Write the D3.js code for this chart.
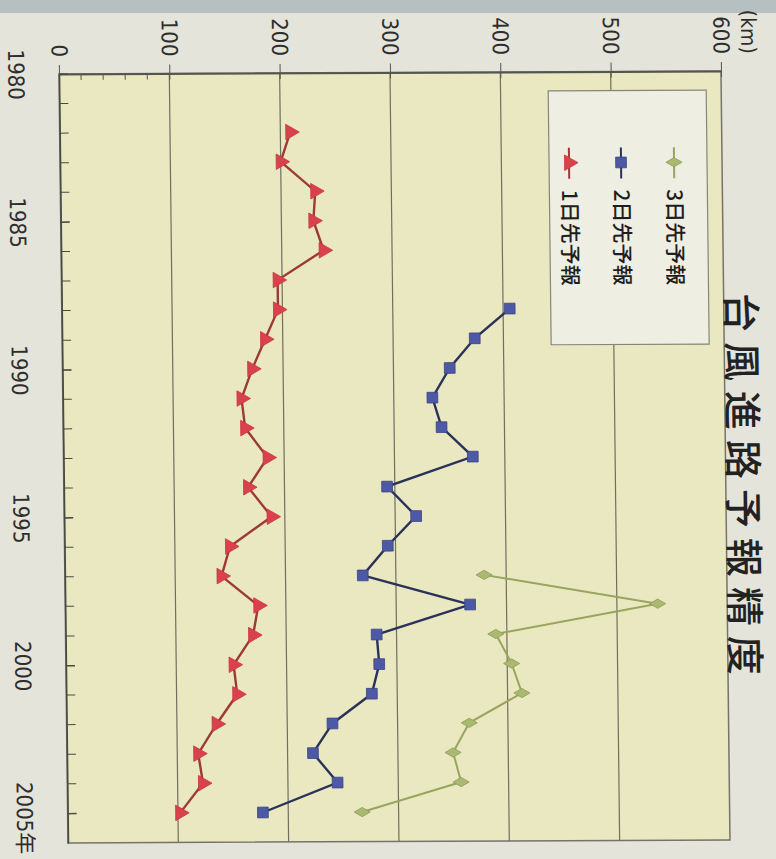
<!DOCTYPE html>
<html>
<head>
<meta charset="utf-8">
<script src="https://cdn.jsdelivr.net/npm/d3@7"></script>
<style>
    html, body { margin: 0; padding: 0; background: #e5e4db; }
    svg { display: block; }
</style>
</head>
<body>
<svg id="chart" width="776" height="859"></svg>
<script>
// 年 (x軸) と予報誤差 km (y軸)。図は90度回転して描く
const years = [1982, 1983, 1984, 1985, 1986, 1987, 1988, 1989, 1990, 1991, 1992, 1993,
    1994, 1995, 1996, 1997, 1998, 1999, 2000, 2001, 2002, 2003, 2004, 2005];

const day1Values = [209, 200, 231, 229, 238, 196, 196, 184, 172, 162, 165, 185,
    167, 188, 150, 142, 175, 170, 152, 155, 136, 119, 123, 102];

const day2Values = [null, null, null, null, null, null, 406, 374, 351, 335, 343, 371,
    293, 319, 293, 270, 367, 282, 284, 277, 241, 223, 245, 177];

const day3Values = [null, null, null, null, null, null, null, null, null, null, null, null,
    null, null, null, 380, 537, 390, 404, 413, 365, 350, 357, 267];

const seriesNames = ["3日先予報", "2日先予報", "1日先予報"];
const yearTicks = [1980, 1985, 1990, 1995, 2000, 2005];
const kmTicks = [0, 100, 200, 300, 400, 500, 600];
const titleText = "台風進路予報精度";

const svg = d3.select("#chart");

// 背景
svg.append("rect").attr("width", 776).attr("height", 859).attr("fill", "#e5e4db");
svg.append("rect").attr("width", 776).attr("height", 13).attr("fill", "#b6c0c0");

// 写真の傾きを少しだけ再現
const g = svg.append("g")
    .attr("transform", "translate(59,76) rotate(-0.26) skewX(0.41) translate(-59,-76)");

const x = d3.scaleLinear().domain([0, 600]).range([59, 721]);   // km -> 横
const y = d3.scaleLinear().domain([1980, 2006]).range([74, 843]); // 年 -> 縦

const numFont = "'Liberation Sans Narrow', 'DejaVu Sans Condensed', Arial, sans-serif";
const cjkFont = "'Noto Sans CJK JP', 'Noto Sans CJK SC', sans-serif";

// プロット領域
g.append("rect")
    .attr("x", x(0)).attr("y", y(1980))
    .attr("width", x(600) - x(0)).attr("height", y(2006) - y(1980))
    .attr("fill", "#eae8c1")
    .attr("stroke", "#74746a").attr("stroke-width", 1.5);

// 目盛線
g.append("g")
    .selectAll("line")
    .data(kmTicks.filter(d => d > 0 && d < 600))
    .enter().append("line")
    .attr("x1", d => x(d)).attr("x2", d => x(d))
    .attr("y1", y(1980)).attr("y2", y(2006))
    .attr("stroke", "#6f6f62").attr("stroke-width", 1.2);

// km 軸 (上)
const kmAxis = g.append("g")
    .attr("transform", `translate(0,${y(1980)})`)
    .call(d3.axisTop(x).tickValues(kmTicks).tickSizeInner(9).tickSizeOuter(0).tickFormat(d3.format("d")));
kmAxis.select(".domain").attr("stroke", "#55554f").attr("stroke-width", 2);
kmAxis.selectAll(".tick line").attr("stroke", "#55554f").attr("y2", 6).attr("y1", -9);
kmAxis.selectAll(".tick text")
    .attr("transform", "translate(0,-17) rotate(90)")
    .attr("x", 0).attr("y", 0).attr("dy", "0.35em")
    .attr("text-anchor", "end")
    .style("font-family", numFont).style("font-size", "22px").attr("fill", "#2e2e2e");
kmAxis.append("g")
    .selectAll("line")
    .data(d3.range(20, 100, 20))
    .enter().append("line")
    .attr("x1", d => x(d)).attr("x2", d => x(d))
    .attr("y1", 0).attr("y2", 6)
    .attr("stroke", "#55554f");
kmAxis.append("text")
    .attr("transform", `translate(${x(600) + 28},-17) rotate(90)`)
    .attr("dy", "0.35em")
    .attr("text-anchor", "end")
    .style("font-family", numFont).style("font-size", "21px").attr("fill", "#2e2e2e")
    .text("(km)");

// 年 軸 (左)
const yearAxis = g.append("g")
    .attr("transform", `translate(${x(0)},0)`)
    .call(d3.axisLeft(y).tickValues(yearTicks).tickSizeInner(13).tickSizeOuter(0).tickFormat(d => d === 2005 ? d + "年" : d));
yearAxis.select(".domain").attr("stroke", "#4a4a44").attr("stroke-width", 1.6);
yearAxis.selectAll(".tick line").attr("stroke", "#4a4a44").attr("x2", 9);
yearAxis.selectAll(".tick text")
    .attr("transform", "translate(-43,0) rotate(90)")
    .attr("x", d => d === 2005 ? 4 : 0).attr("y", 0).attr("dy", "0.35em")
    .attr("text-anchor", "middle")
    .style("font-family", numFont).style("font-size", "22px").attr("fill", "#2e2e2e");
yearAxis.selectAll(".tick text")
    .filter(d => d === 2005)
    .style("font-family", `${numFont}, ${cjkFont}`);
yearAxis.append("g")
    .selectAll("line")
    .data(d3.range(1980, 2006))
    .enter().append("line")
    .attr("x1", 0).attr("x2", 9)
    .attr("y1", d => y(d)).attr("y2", d => y(d))
    .attr("stroke", "#4a4a44");

// 系列
const series = [
    {name: seriesNames[0], values: day3Values, symbol: d3.symbolDiamond, size: 75, line: "#98a55f", fill: "#aab872", stroke: "#8f9d58", width: 2},
    {name: seriesNames[1], values: day2Values, symbol: d3.symbolSquare, size: 115, line: "#2a3259", fill: "#4d59a6", stroke: "#3a4580", width: 2.4},
    {name: seriesNames[2], values: day1Values, symbol: d3.symbolTriangle, size: 105, line: "#9c3a37", fill: "#d9424b", stroke: "#c9363f", width: 2.4}
];

const line = d3.line()
    .defined(d => d.v != null)
    .x(d => x(d.v))
    .y(d => y(d.year));

series.forEach(s => {
    let points = years.map((year, i) => ({year: year, v: s.values[i]}));

    g.append("path")
        .datum(points)
        .attr("d", line)
        .attr("fill", "none")
        .attr("stroke", s.line)
        .attr("stroke-width", s.width);

    g.append("g")
        .selectAll("path")
        .data(points.filter(d => d.v != null))
        .enter().append("path")
        .attr("d", d3.symbol(s.symbol, s.size))
        .attr("transform", d => `translate(${x(d.v)},${y(d.year)}) rotate(90)`)
        .attr("fill", s.fill)
        .attr("stroke", s.stroke)
        .attr("stroke-width", 0.8);
});

// 凡例
const legend = g.append("g");
legend.append("rect")
    .attr("x", 548).attr("y", 93)
    .attr("width", 158).attr("height", 254)
    .attr("fill", "#efeee3")
    .attr("stroke", "#85857c").attr("stroke-width", 1.2);

const legendX = [673, 620, 568];
series.forEach((s, i) => {
    let lx = legendX[i];
    legend.append("line")
        .attr("x1", lx).attr("x2", lx)
        .attr("y1", 150).attr("y2", 181)
        .attr("stroke", s.line).attr("stroke-width", 2);
    legend.append("path")
        .attr("d", d3.symbol(s.symbol, s.size))
        .attr("transform", `translate(${lx},165) rotate(90)`)
        .attr("fill", s.fill).attr("stroke", s.stroke).attr("stroke-width", 0.8);
    legend.append("text")
        .attr("transform", `translate(${lx},192) rotate(90)`)
        .attr("dy", "0.35em")
        .attr("text-anchor", "start")
        .style("font-family", cjkFont).style("font-size", "21px").style("font-weight", 500)
        .attr("fill", "#1e1e1e")
        .text(s.name);
});

// タイトル
g.append("text")
    .attr("transform", "translate(741,492) rotate(90)")
    .attr("dominant-baseline", "central")
    .attr("text-anchor", "middle")
    .style("font-family", cjkFont).style("font-size", "39px").style("font-weight", 500)
    .style("letter-spacing", "10px")
    .attr("fill", "#222")
    .text(titleText);
</script>
</body>
</html>
